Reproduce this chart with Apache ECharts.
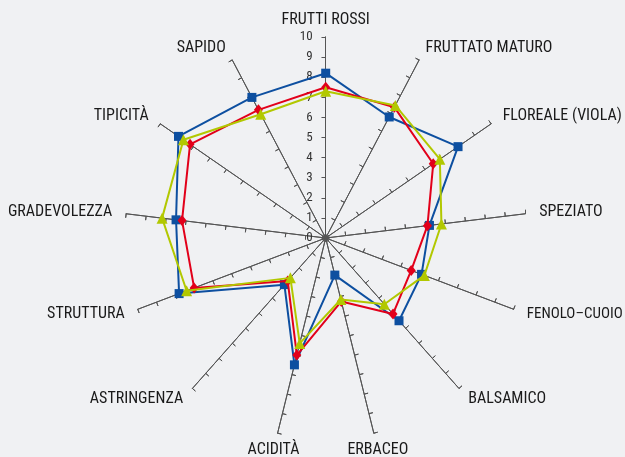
<!DOCTYPE html>
<html>
<head>
<meta charset="utf-8">
<script src="https://cdn.jsdelivr.net/npm/echarts@6/dist/echarts.min.js"></script>
<style>
html,body{margin:0;padding:0;background:#f0f1f3;}
#c{width:625px;height:457px;}
</style>
</head>
<body>
<div id="c"></div>
<script>
// Categories in clockwise order, starting at the top
const categories = ['FRUTTI ROSSI','FRUTTATO MATURO','FLOREALE (VIOLA)','SPEZIATO','FENOLO–CUOIO','BALSAMICO','ERBACEO','ACIDITÀ','ASTRINGENZA','STRUTTURA','GRADEVOLEZZA','TIPICITÀ','SAPIDO'];
const blueValues  = [8.2, 6.8, 8.0, 5.2, 5.1, 5.5, 1.9, 6.5, 3.1, 7.8, 7.5, 8.9, 7.9];
const redValues   = [7.5, 7.35, 6.5, 5.1, 4.55, 5.05, 3.25, 6.0, 2.85, 7.0, 7.2, 8.2, 7.2];
const greenValues = [7.3, 7.45, 6.9, 5.8, 5.25, 4.4, 3.15, 5.4, 2.65, 7.4, 8.2, 8.6, 6.95];
const tickLabels = ['0','1','2','3','4','5','6','7','8','9','10'];
// names drawn centred on their axis end (near-vertical axes)
const centredNames = ['FRUTTI ROSSI','ERBACEO','ACIDITÀ'];
// long name set slightly smaller so it fits the frame
const smallNames = ['FENOLO–CUOIO'];

// ECharts places radar indicators counter-clockwise: reorder to clockwise
function cw(arr){ return [arr[0]].concat(arr.slice(1).reverse()); }

const CENTER = [325.7, 238];
const RADIUS = 201;
const FONT = '"Liberation Sans Narrow", "Roboto Condensed", Roboto, sans-serif';
const indicators = cw(categories).map(n => ({name:n, min:0, max:10}));

const axisStyle = {lineStyle:{color:'#555', width:1}};
function radarBase(inside, nameOpt, gap){
  return {
    center: CENTER, radius: RADIUS, startAngle: 90, splitNumber: 10,
    indicator: indicators,
    shape: 'polygon',
    axisName: Object.assign({show: true, color:'#1a1a1a', fontFamily: FONT, fontSize: 16,
      rich: {s: {color:'#1a1a1a', fontFamily: FONT, fontSize: 15}}}, nameOpt),
    nameGap: gap,
    axisLine: axisStyle,
    axisTick: {show:true, inside: inside, length: 4, lineStyle:{color:'#555', width:1}},
    axisLabel: {show:false},
    splitLine: {show:false},
    splitArea: {show:false}
  };
}

const chart = echarts.init(document.getElementById('c'), null, {renderer:'canvas'});
chart.setOption({
  backgroundColor: '#f0f1f3',
  animation: false,
  radar: [
    radarBase(false, {formatter: n => centredNames.indexOf(n) >= 0 ? '' :
      (smallNames.indexOf(n) >= 0 ? '{s|' + n + '}' : n)}, 14),
    radarBase(true, {formatter: n => centredNames.indexOf(n) >= 0 ? n : '', align:'center', verticalAlign:'middle'}, 17)
  ],
  polar: {center: CENTER, radius: RADIUS},
  angleAxis: {show:false, startAngle:90, min:0, max:360},
  radiusAxis: {
    min:0, max:10, interval:1,
    axisLine:{show:false}, axisTick:{show:false}, splitLine:{show:false},
    axisLabel:{show:true, color:'#333', fontFamily: FONT, fontSize: 13, margin: 13,
      formatter: v => tickLabels[Math.round(v)]}
  },
  series: [
    {type:'radar', radarIndex:0, z:3, data:[{value: cw(blueValues), name:'Blu'}],
      symbol:'rect', symbolSize:9,
      lineStyle:{color:'#0d4fa0', width:2}, itemStyle:{color:'#0d4fa0'}},
    {type:'radar', radarIndex:0, z:4, data:[{value: cw(redValues), name:'Rosso'}],
      symbol:'diamond', symbolSize:[9,11],
      lineStyle:{color:'#e2001a', width:2}, itemStyle:{color:'#e2001a'}},
    {type:'radar', radarIndex:0, z:5, data:[{value: cw(greenValues), name:'Verde'}],
      symbol:'triangle', symbolSize:11,
      lineStyle:{color:'#b2c800', width:2}, itemStyle:{color:'#b2c800'}}
  ]
});
</script>
</body>
</html>
